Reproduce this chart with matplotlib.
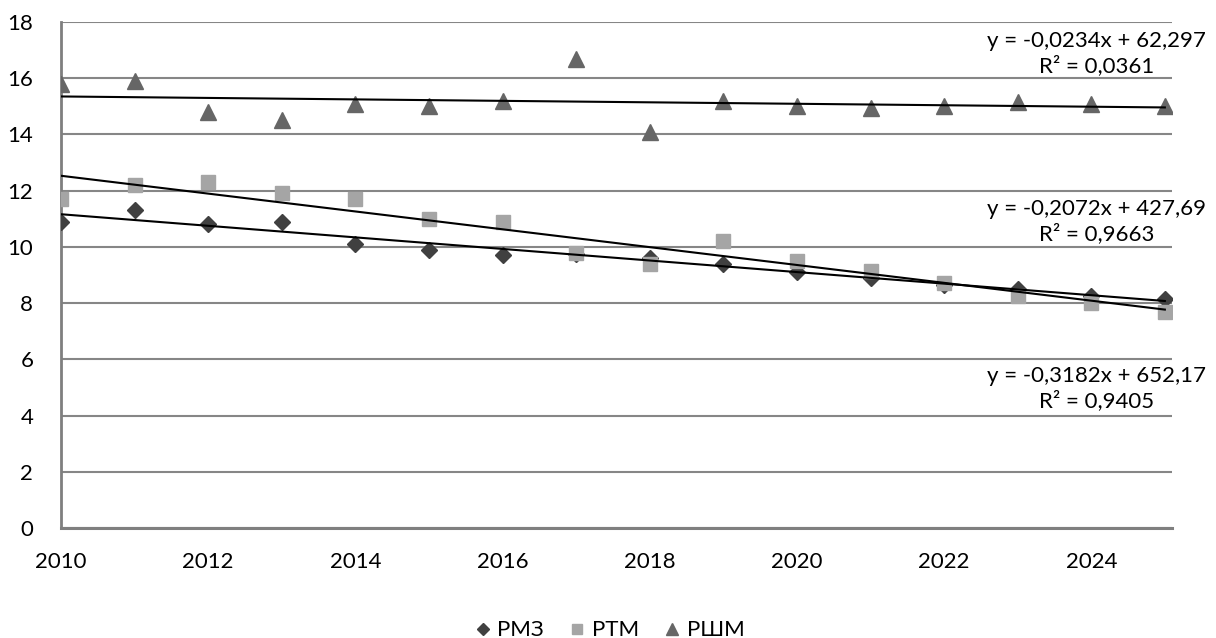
import numpy as np
import matplotlib
matplotlib.use("Agg")
import matplotlib.pyplot as plt

years = list(range(2010, 2026))
rmz = [10.9, 11.3, 10.8, 10.9, 10.1, 9.9, 9.7, 9.75, 9.6, 9.4, 9.1, 8.9, 8.65, 8.5, 8.25, 8.15]
rtm = [11.7, 12.2, 12.3, 11.9, 11.7, 11.0, 10.9, 9.8, 9.4, 10.2, 9.5, 9.15, 8.7, 8.25, 8.0, 7.7]
rshm = [15.8, 15.9, 14.8, 14.5, 15.1, 15.0, 15.2, 16.7, 14.1, 15.2, 15.0, 14.95, 15.0, 15.15, 15.1, 15.0]
names = ["РМЗ", "РТМ", "РШМ"]
eq_texts = ["y = -0,2072x + 427,69\nR² = 0,9663",
            "y = -0,3182x + 652,17\nR² = 0,9405",
            "y = -0,0234x + 62,297\nR² = 0,0361"]
eq_pos = [(2024.07, 10.91), (2024.07, 4.96), (2024.07, 16.89)]
yticks = list(range(0, 19, 2))
xticks = list(range(2010, 2026, 2))

plt.rcParams['font.family'] = ['Lato', 'DejaVu Sans']
fig = plt.figure(figsize=(12.16, 6.38), dpi=100)
ax = fig.add_axes([0.0502, 0.1724, 0.9138, 0.7931])

colors = ["#404040", "#a5a5a5", "#666666"]
markers = ["D", "s", "^"]
msizes = [8, 10, 11]
x = np.array(years, dtype=float)
for vals, nm, c, m, ms in zip([rmz, rtm, rshm], names, colors, markers, msizes):
    ax.plot(years, vals, linestyle='none', marker=m, ms=ms, color=c, label=nm, zorder=3)
for vals in [rmz, rtm, rshm]:
    k, b = np.polyfit(x, np.array(vals), 1)
    ax.plot([years[0], years[-1]], [k*years[0]+b, k*years[-1]+b], color='black', lw=1.5, zorder=4)

for t, (px, py) in zip(eq_texts, eq_pos):
    ax.text(px, py, t, ha='center', va='center', fontsize=16, color='black',
            linespacing=1.25, clip_on=False, multialignment='center')

ax.set_xlim(2010, 2025.1)
ax.set_ylim(0, 18)
ax.set_yticks(yticks)
ax.set_xticks(xticks)
ax.tick_params(axis='both', length=0, labelsize=16, colors='black')
ax.tick_params(axis='x', pad=17)
ax.tick_params(axis='y', pad=20)
ax.grid(axis='y', color='#868686', lw=1.5)
ax.set_axisbelow(True)
for s in ['top', 'right']:
    ax.spines[s].set_visible(False)
ax.spines['left'].set_color('#7f7f7f')
ax.spines['left'].set_linewidth(2)
ax.spines['bottom'].set_color('#7f7f7f')
ax.spines['bottom'].set_linewidth(2.2)

leg = fig.legend(loc='lower center', bbox_to_anchor=(0.5, -0.035), ncol=3, frameon=False,
                 fontsize=16, handletextpad=0.15, columnspacing=1.0, markerscale=0.75,
                 handlelength=1.0)
fig.savefig("out.png", dpi=100)
